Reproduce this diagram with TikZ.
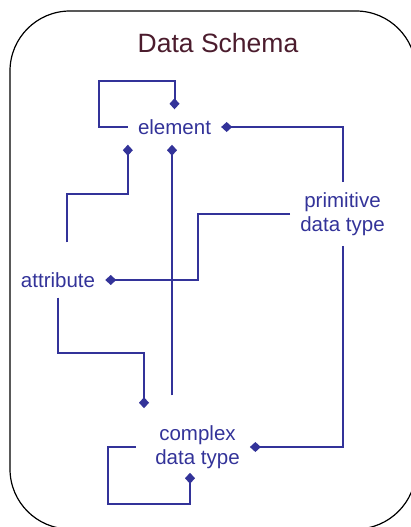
\documentclass[tikz,border=0pt]{standalone}
\usepackage{fontspec}
\setmainfont{Liberation Sans}
\usetikzlibrary{arrows.meta}
\definecolor{schemablue}{RGB}{51,51,153}
\definecolor{titlered}{RGB}{75,28,45}

\begin{document}
\begin{tikzpicture}[x=1pt, y=-1pt,
  link/.style={draw=schemablue, line width=2pt, arrows={-Diamond[length=11pt,width=10pt]}},
  entity/.style={text=schemablue, font=\fontsize{20.5}{24}\selectfont, align=center, inner sep=10pt}]
\useasboundingbox (0,0) rectangle (411,527);
\draw[line width=1.2pt, rounded corners=60pt] (10,11) rectangle (416,529);

\node[text=titlered, font=\fontsize{26.5}{32}\selectfont] at (218,43) (title) {Data Schema};

\node[entity] at (174.5,127) (element) {element};
\node[entity] at (342.5,214) (primitive) {primitive\\data type};
\node[entity] at (58,280) (attribute) {attribute};
\node[entity] at (197.5,447) (complex) {complex\\data type};

% element refers to itself
\draw[link] (element.west) -- (99,127) -- (99,81) -| (element.north);
% primitive data type
\draw[link] (primitive.north) |- (element.east);
\draw[link] (primitive.south) |- (complex.east);
\draw[link] (primitive.west) -- (198,214) |- (attribute.east);
% attribute
\draw[link] ([xshift=9pt,yshift=20pt]attribute.north) -- ++(0,-48) -| (element.south west);
\draw[link] (attribute.south) -- ++(0,55) -| ([xshift=-53.5pt,yshift=7pt]complex.north);
% complex data type
\draw[link] ([xshift=-25.5pt,yshift=20pt]complex.north) -- ([xshift=-2.5pt]element.south);
\draw[link] ([xshift=-9.5pt]complex.west) -- ++(-28,0) -- ++(0,57) -| ([xshift=-7.5pt,yshift=6pt]complex.south);
\end{tikzpicture}
\end{document}
